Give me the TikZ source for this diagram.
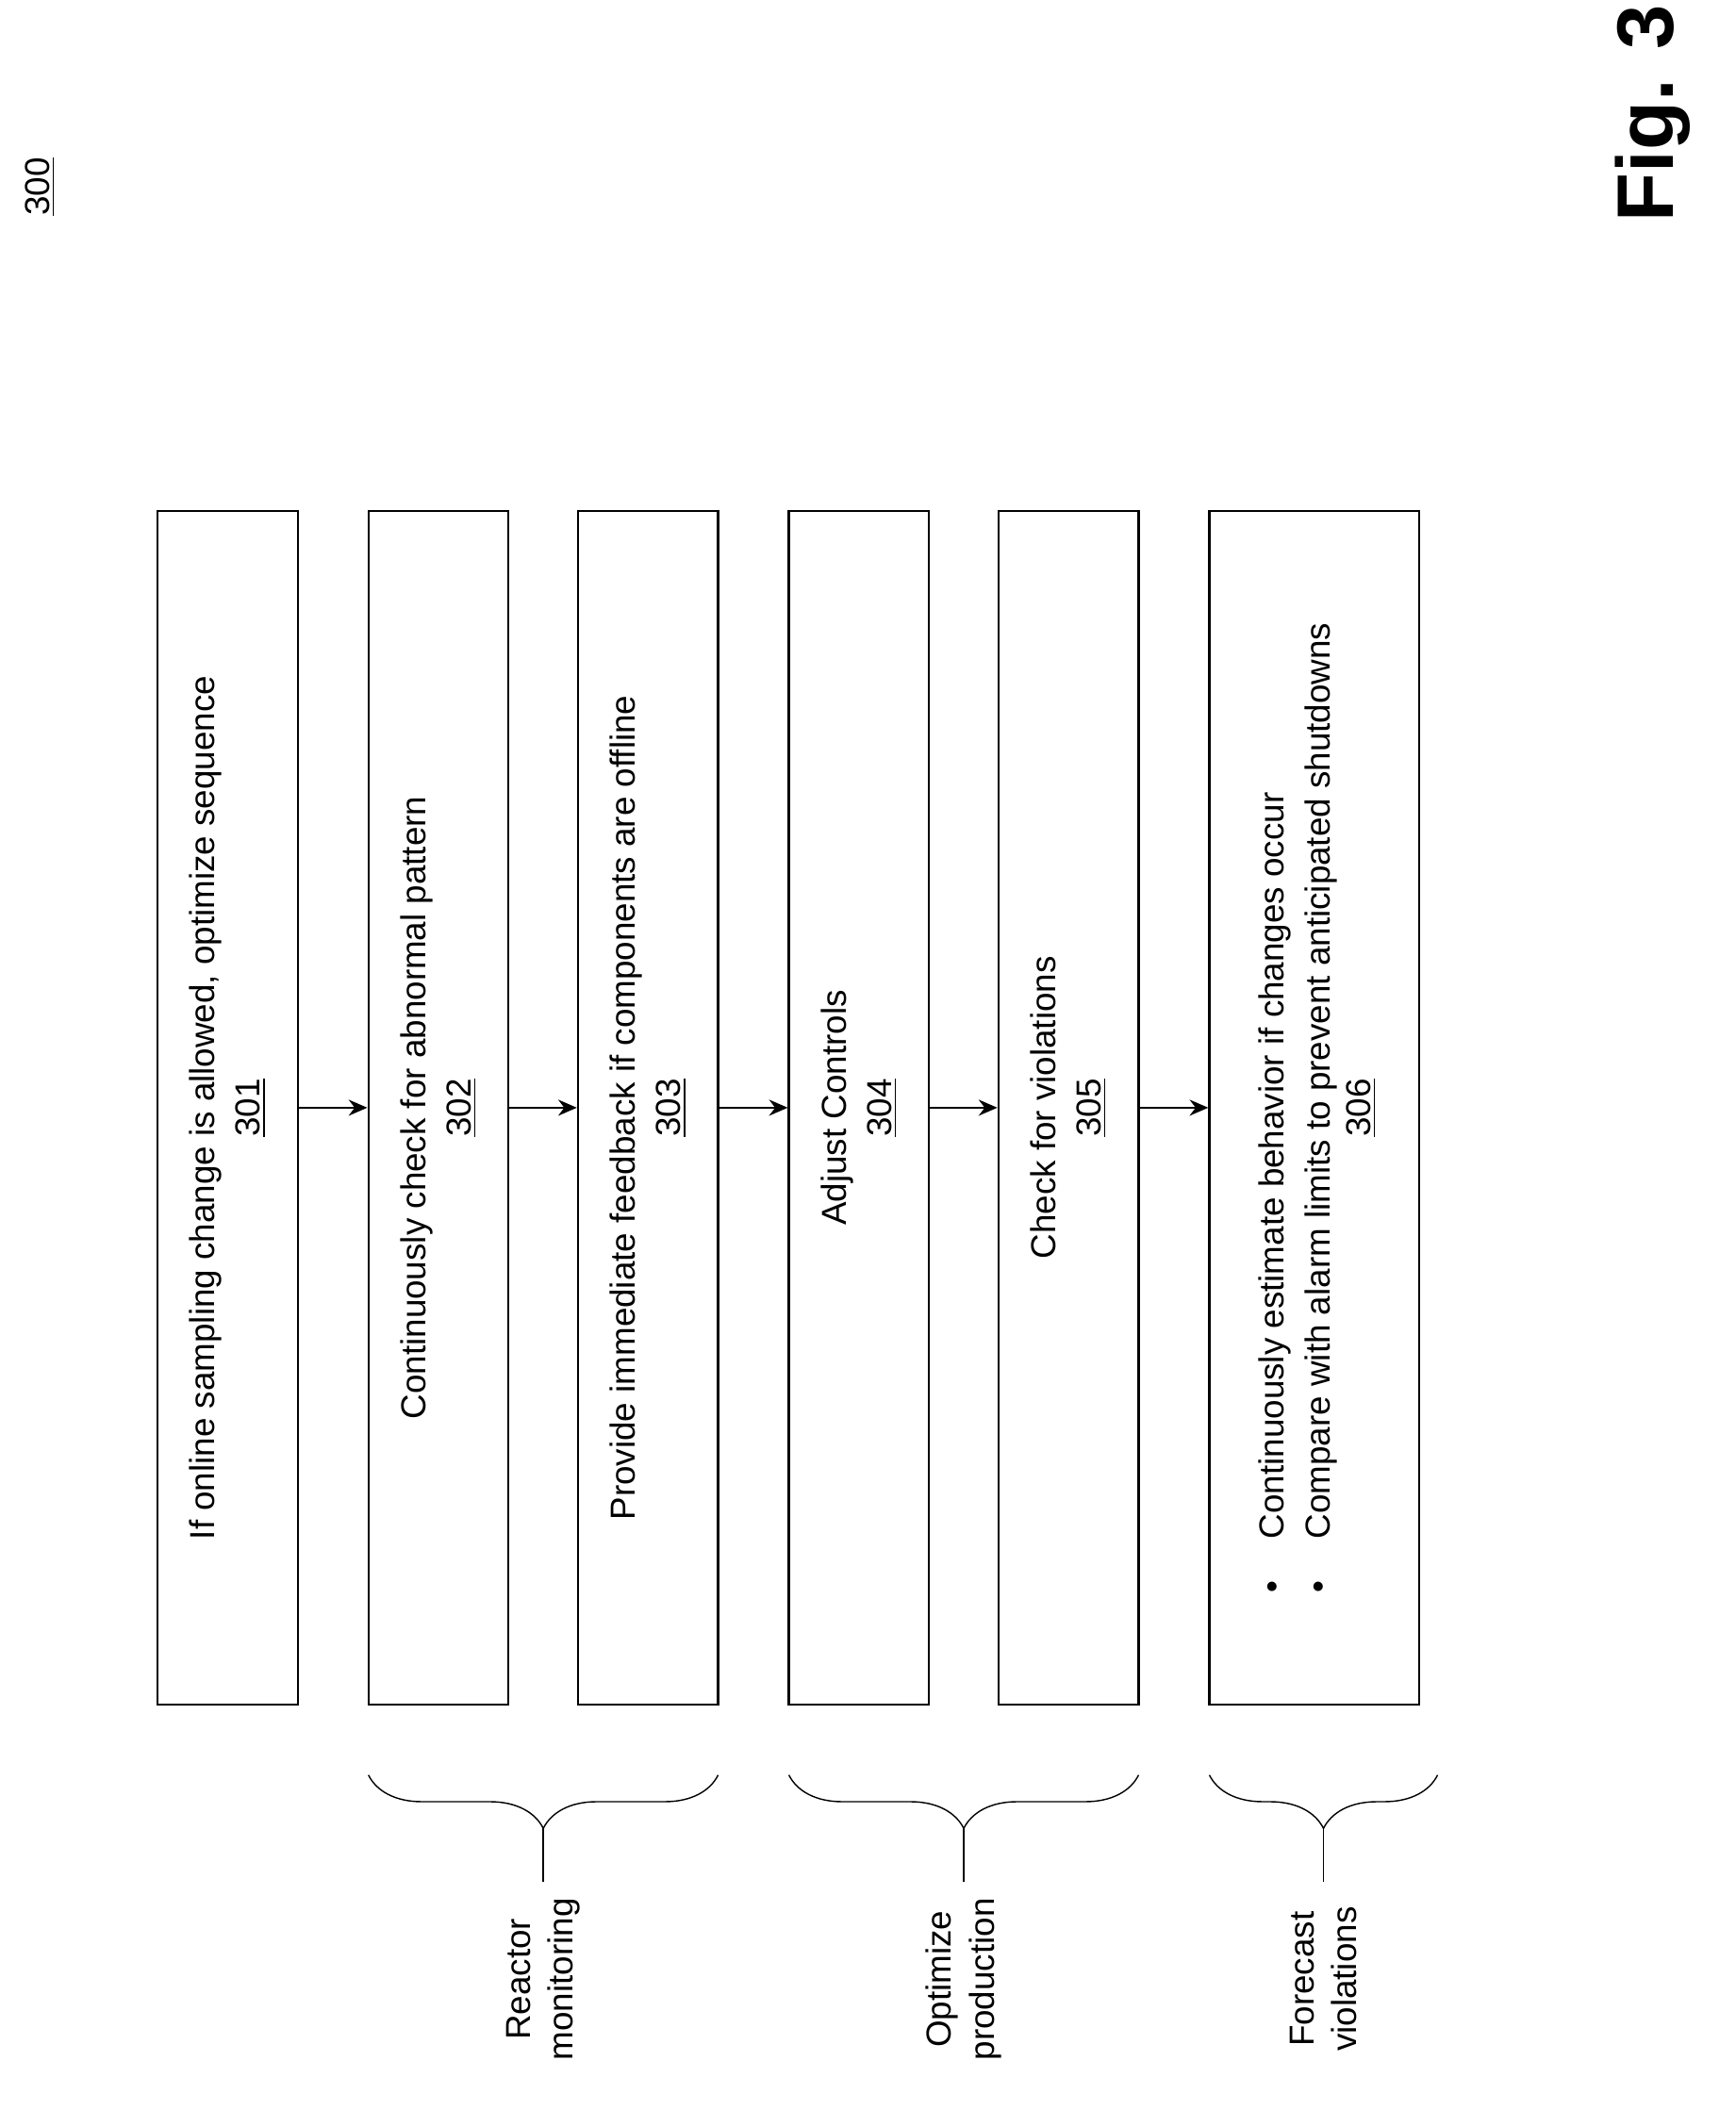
\documentclass[tikz,border=0pt]{standalone}
\usepackage{fontspec}
\setmainfont{Liberation Sans}
\usetikzlibrary{arrows.meta,decorations.pathreplacing}
\begin{document}
\begin{tikzpicture}[x=0.5pt,y=0.5pt,
 box/.style={draw,line width=0.8pt,rotate=90,minimum width=447pt,minimum height=52.5pt,align=center,inner sep=0pt,font=\fontsize{13}{17}\selectfont},
 arr/.style={-{Stealth[length=7pt,width=6pt]},line width=0.8pt},
 br/.style={decorate,decoration={brace,mirror,amplitude=20pt},line width=0.5pt},
 lab/.style={rotate=90,align=center,font=\fontsize{13}{16}\selectfont}]
\useasboundingbox (0,0) rectangle (1300,1581);
\node[rotate=90,font=\fontsize{13}{16}\selectfont] (n300) at (30,1441) {\underline{300}};
\node[rotate=90,font=\fontsize{30}{32}\selectfont\bfseries] (fig) at (1238,1496) {Fig. 3};
\node[box] (b1) at (170.5,751) {If online sampling change is allowed, optimize sequence\\\underline{301}};
\node[box] (b2) at (328.5,751) {Continuously check for abnormal pattern\\\underline{302}};
\node[box] (b3) at (485.5,751) {Provide immediate feedback if components are offline\\\underline{303}};
\node[box] (b4) at (643.5,751) {Adjust Controls\\\underline{304}};
\node[box] (b5) at (800.5,751) {Check for violations\\\underline{305}};
\node[box,minimum height=78.5pt] (b6) at (984.5,751) {\begin{tabular}{@{}l@{\hspace{1.2em}}l@{}}\textbullet & Continuously estimate behavior if changes occur\\ \textbullet & Compare with alarm limits to prevent anticipated shutdowns\end{tabular}\\\underline{306}};
\draw[arr] (b1.south) -- (b2.north);
\draw[arr] (b2.south) -- (b3.north);
\draw[arr] (b3.south) -- (b4.north);
\draw[arr] (b4.south) -- (b5.north);
\draw[arr] (b5.south) -- (b6.north);
\coordinate (r1) at (276,251); \coordinate (r2) at (538,251);
\coordinate (o1) at (591,251); \coordinate (o2) at (853,251);
\coordinate (f1) at (906,251); \coordinate (f2) at (1077,251);
\draw[br] (r1) -- (r2); \draw[br] (o1) -- (o2); \draw[br] (f1) -- (f2);
\coordinate (rt) at (407,211); \coordinate (ot) at (722,211); \coordinate (ft) at (991.5,211);
\node[lab] (lr) at (407,98) {Reactor\\monitoring};
\node[lab] (lo) at (722,98) {Optimize\\production};
\node[lab] (lf) at (991.5,98) {Forecast\\violations};
\draw[line width=0.5pt] (rt) -- (407,171);
\draw[line width=0.5pt] (ot) -- (722,171);
\draw[line width=0.5pt] (ft) -- (991.5,171);
\end{tikzpicture}
\end{document}
